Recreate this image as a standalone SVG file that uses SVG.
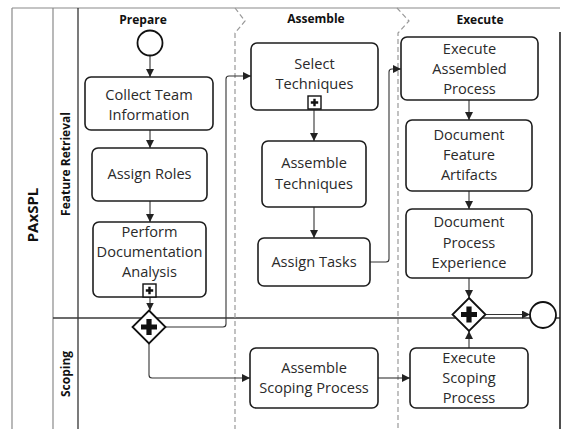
<svg xmlns="http://www.w3.org/2000/svg" width="561" height="429" viewBox="0 0 561 429">
  <defs>
    <style>
      .box{fill:#fff;stroke:#1e1e1e;stroke-width:1.6}
      .lbl{font-family:"Open Sans","Noto Sans","DejaVu Sans",sans-serif;font-size:14.6px;fill:#2a2a2a;text-anchor:middle}
      .hdr{font-family:"Open Sans","Noto Sans","DejaVu Sans",sans-serif;font-weight:bold;font-size:12px;fill:#111;text-anchor:middle}
      .pool{font-family:"Open Sans","Noto Sans","DejaVu Sans",sans-serif;font-weight:bold;font-size:15px;fill:#111;text-anchor:middle}
      .edge{fill:none;stroke:#333;stroke-width:1.1;marker-end:url(#arr)}
      .frame{stroke:#8a8a8a;stroke-width:1.2;fill:none}
      .sep{stroke:#999;stroke-width:1.2;stroke-dasharray:5 3;fill:none}
      .event{fill:#fff;stroke:#111;stroke-width:1.8}
      .gw{fill:#fff;stroke:#111;stroke-width:1.8}
      .mark{fill:#fff;stroke:#111;stroke-width:1.4}
    </style>
    <marker id="arr" viewBox="0 0 8 8" refX="8" refY="4" markerWidth="8" markerHeight="8" markerUnits="userSpaceOnUse" orient="auto">
      <path d="M0,0 L8,4 L0,8 z" fill="#222"/>
    </marker>
    <!-- thick plus used in parallel gateways -->
    <path id="gwplus" d="M-2.6,-8 H2.6 V-2.6 H8 V2.6 H2.6 V8 H-2.6 V2.6 H-8 V-2.6 H-2.6 Z" fill="#111"/>
    <!-- collapsed sub-process marker -->
    <g id="subproc">
      <rect x="0" y="0" width="13" height="13" class="mark"/>
      <path d="M6.5,2.8 V10.2 M2.8,6.5 H10.2" stroke="#111" stroke-width="2.4"/>
    </g>
  </defs>

  <rect x="0" y="0" width="561" height="429" fill="#fff"/>

  <!-- pool and lane frame -->
  <g id="frame">
    <path class="frame" d="M12,8 H560 M12,8 V429 M53,8 V429"/>
    <path d="M78,8 V429" stroke="#222" stroke-width="1.2"/>
    <path d="M53,318 H560" stroke="#3a3a3a" stroke-width="1.3"/>
    <path d="M560,32 V429" stroke="#222" stroke-width="1.6"/>
    <text class="pool" transform="translate(38,215) rotate(-90)">PAxSPL</text>
    <text class="hdr" transform="translate(70,164) rotate(-90)">Feature Retrieval</text>
    <text class="hdr" transform="translate(70,374) rotate(-90)">Scoping</text>
  </g>

  <!-- phase separators -->
  <g id="phases">
    <path class="sep" d="M235,8 L245,21 L235,33 V429"/>
    <path class="sep" d="M397,8 L409,21 L398,33 V429"/>
    <text class="hdr" x="143" y="24">Prepare</text>
    <text class="hdr" x="316" y="23">Assemble</text>
    <text class="hdr" x="480" y="24">Execute</text>
  </g>

  <!-- connectors -->
  <g id="connectors">
    <path class="edge" d="M150,56 V77"/>
    <path class="edge" d="M150,130 V148"/>
    <path class="edge" d="M150,201 V222"/>
    <path class="edge" d="M150,297 V310.5"/>
    <path class="edge" d="M165.5,327 H223 Q226,327 226,324 V79 Q226,76 229,76 H251"/>
    <path class="edge" d="M149,343.5 V375 Q149,378 152,378 H250"/>
    <path class="edge" d="M314,110 V141"/>
    <path class="edge" d="M314,207 V238"/>
    <path class="edge" d="M370,262 H386 Q389,262 389,259 V72 Q389,69 392,69 H401"/>
    <path class="edge" d="M469,100 V120"/>
    <path class="edge" d="M469,191 V209"/>
    <path class="edge" d="M469,278 V298"/>
    <path class="edge" d="M378,378 H410"/>
    <path class="edge" d="M469,348 V331"/>
    <path class="edge" d="M485.5,314.5 H530"/>
  </g>

  <!-- events -->
  <g id="start">
    <circle class="event" cx="150" cy="43" r="12.5"/>
  </g>
  <g id="end">
    <circle class="event" cx="543" cy="315" r="13" stroke-width="2.2"/>
  </g>

  <!-- gateways -->
  <g id="split">
    <path class="gw" d="M149,310.5 L165.5,327 L149,343.5 L132.5,327 Z"/>
    <use href="#gwplus" x="149" y="327"/>
  </g>
  <g id="join">
    <path class="gw" d="M469,298 L485.5,314.5 L469,331 L452.5,314.5 Z"/>
    <use href="#gwplus" x="469" y="314.5"/>
  </g>

  <!-- Prepare tasks -->
  <g id="collect-team-information">
    <rect class="box" x="85" y="77" width="128" height="53" rx="6"/>
    <text class="lbl" x="149" y="100">Collect Team</text>
    <text class="lbl" x="149" y="120">Information</text>
  </g>
  <g id="assign-roles">
    <rect class="box" x="92" y="148" width="115" height="53" rx="6"/>
    <text class="lbl" x="149.5" y="179">Assign Roles</text>
  </g>
  <g id="perform-documentation-analysis">
    <rect class="box" x="93" y="222" width="113" height="75" rx="6"/>
    <text class="lbl" x="149.5" y="237">Perform</text>
    <text class="lbl" x="149.5" y="257">Documentation</text>
    <text class="lbl" x="149.5" y="277">Analysis</text>
    <use href="#subproc" x="143" y="284"/>
  </g>

  <!-- Assemble tasks -->
  <g id="select-techniques">
    <rect class="box" x="251" y="43" width="127" height="67" rx="6"/>
    <text class="lbl" x="314.5" y="69">Select</text>
    <text class="lbl" x="314.5" y="89">Techniques</text>
    <use href="#subproc" x="308" y="96"/>
  </g>
  <g id="assemble-techniques">
    <rect class="box" x="262" y="141" width="104" height="66" rx="6"/>
    <text class="lbl" x="314" y="168">Assemble</text>
    <text class="lbl" x="314" y="189">Techniques</text>
  </g>
  <g id="assign-tasks">
    <rect class="box" x="258" y="238" width="112" height="48" rx="6"/>
    <text class="lbl" x="314" y="267">Assign Tasks</text>
  </g>
  <g id="assemble-scoping-process">
    <rect class="box" x="250" y="348" width="128" height="60" rx="6"/>
    <text class="lbl" x="314" y="373">Assemble</text>
    <text class="lbl" x="314" y="393">Scoping Process</text>
  </g>

  <!-- Execute tasks -->
  <g id="execute-assembled-process">
    <rect class="box" x="401" y="37" width="137" height="63" rx="6"/>
    <text class="lbl" x="469.5" y="54">Execute</text>
    <text class="lbl" x="469.5" y="74">Assembled</text>
    <text class="lbl" x="469.5" y="94">Process</text>
  </g>
  <g id="document-feature-artifacts">
    <rect class="box" x="406" y="120" width="126" height="71" rx="6"/>
    <text class="lbl" x="469" y="140">Document</text>
    <text class="lbl" x="469" y="160">Feature</text>
    <text class="lbl" x="469" y="180">Artifacts</text>
  </g>
  <g id="document-process-experience">
    <rect class="box" x="406" y="209" width="126" height="69" rx="6"/>
    <text class="lbl" x="469" y="227">Document</text>
    <text class="lbl" x="469" y="248">Process</text>
    <text class="lbl" x="469" y="268">Experience</text>
  </g>
  <g id="execute-scoping-process">
    <rect class="box" x="410" y="348" width="118" height="60" rx="6"/>
    <text class="lbl" x="469" y="363">Execute</text>
    <text class="lbl" x="469" y="383">Scoping</text>
    <text class="lbl" x="469" y="403">Process</text>
  </g>
</svg>
